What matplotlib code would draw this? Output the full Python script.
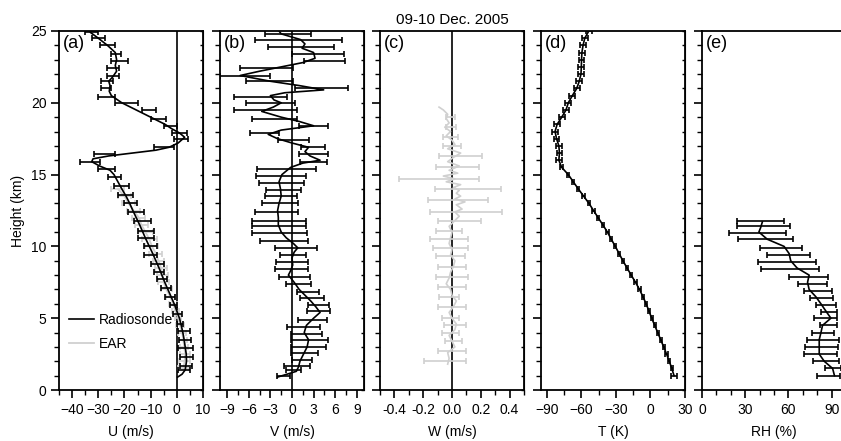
import matplotlib
matplotlib.use("Agg")
import matplotlib.pyplot as plt
from matplotlib.ticker import MultipleLocator

plt.rcParams['font.family'] = ['Liberation Sans', 'DejaVu Sans']
plt.rcParams['font.size'] = 10

# (a) zonal wind, radiosonde line
u_h = [0.9, 1.1, 1.4, 2.0, 2.5, 3.0, 3.5, 4.0, 4.5, 5.0, 5.5, 6.0, 6.5, 7.0, 7.5, 8.0,
       8.5, 9.0, 9.5, 10.0, 10.5, 11.0, 11.5, 12.0, 12.5, 13.0, 13.5, 14.0, 14.5, 15.0,
       15.3, 15.6, 15.9, 16.1, 16.3, 16.5, 16.7, 16.9, 17.2, 17.6, 17.9, 18.2, 18.5,
       19.0, 19.5, 20.0, 20.5, 20.8, 21.2, 21.5, 21.8, 22.2, 22.6, 23.0, 23.5, 24.0,
       24.5, 24.9]
u_val = [0.3, 2.0, 3.2, 3.7, 3.6, 3.2, 2.8, 2.3, 1.7, 1.0, 0.0, -1.0, -2.2, -3.4, -4.6,
         -5.7, -6.8, -8.0, -9.2, -10.5, -11.8, -13.0, -14.2, -15.5, -16.8, -18.0, -19.4,
         -21.0, -22.5, -24.0, -25.5, -29.5, -32.5, -32.0, -26.0, -17.0, -8.0, -3.0, 0.5,
         3.0, 1.0, -2.0, -4.5, -10.0, -15.5, -21.0, -25.0, -25.8, -25.5, -26.0, -24.5,
         -23.0, -23.5, -23.0, -23.5, -26.5, -30.0, -33.0]
# radiosonde error bars (height, centre, half width)
u_err_h = [1.4, 1.7, 2.3, 2.9, 3.5, 4.1, 4.6, 5.3, 5.9, 6.5, 7.1, 7.7, 8.2, 8.8, 9.4,
           10.0, 10.6, 11.1, 11.8, 12.4, 13.0, 13.6, 14.2, 14.8, 15.4, 15.9, 16.4, 16.9,
           17.5, 17.9, 18.4, 18.9, 19.5, 20.0, 20.4, 21.0, 21.5, 21.9, 22.4, 22.9, 23.4,
           24.0, 24.5, 24.9]
u_err_c = [2.8, 3.5, 3.8, 3.3, 3.1, 2.8, 1.2, 0.2, -1.2, -2.5, -4.3, -5.6, -6.9, -7.5,
           -10.0, -10.0, -11.9, -11.9, -13.1, -15.6, -17.8, -19.7, -21.2, -23.8, -26.9,
           -33.1, -27.8, -5.0, 1.6, 0.9, -2.5, -6.9, -10.6, -19.4, -26.9, -26.9, -26.6,
           -24.4, -24.4, -21.9, -23.4, -26.6, -30.0, -32.5]
u_err_w = [2.2, 2.2, 2.5, 2.8, 2.2, 2.2, 1.3, 1.6, 1.3, 1.9, 1.9, 1.9, 1.9, 2.5, 2.5,
           2.5, 3.1, 3.1, 3.1, 3.1, 2.5, 2.8, 2.8, 2.5, 3.1, 3.8, 4.0, 3.8, 2.8, 2.8,
           2.5, 2.8, 2.8, 4.4, 3.1, 1.9, 2.2, 2.2, 2.2, 3.4, 1.9, 2.8, 2.5, 2.5]
# EAR zonal wind
ear_h = [1.5, 2.0, 2.5, 3.0, 3.5, 4.0, 4.5, 5.0, 5.5, 6.0, 6.5, 7.0, 7.5, 8.0, 8.5,
         9.0, 9.5, 10.0, 10.5, 11.0, 11.5, 12.0, 12.5, 13.0, 13.5, 14.0]
ear_u = [2.5, 3.0, 3.2, 2.8, 2.5, 2.0, 1.2, 0.5, -0.5, -1.5, -2.5, -4.0, -5.0, -5.5,
         -6.0, -7.0, -8.0, -9.5, -10.5, -12.0, -13.5, -14.5, -16.5, -18.5, -20.0, -22.5]
ear_w = [2.0, 2.0, 1.8, 1.5, 1.5, 1.5, 1.5, 1.2, 1.5, 1.5, 1.8, 2.0, 2.0, 2.0, 2.2,
         2.2, 2.5, 2.5, 2.8, 2.8, 2.5, 2.5, 2.5, 2.5, 2.5, 2.5]

# (b) meridional wind
v_h = [0.9, 1.1, 1.3, 1.6, 2.0, 2.5, 3.0, 3.5, 4.0, 4.5, 5.0, 5.4, 5.8, 6.2, 6.6, 7.0,
       7.5, 8.0, 8.3, 8.7, 9.2, 9.6, 9.9, 10.2, 10.6, 11.0, 11.5, 12.0, 12.5, 13.0, 13.5,
       14.0, 14.5, 15.0, 15.5, 15.8, 16.0, 16.3, 16.6, 16.9, 17.2, 17.5, 17.8, 18.1,
       18.4, 18.7, 19.0, 19.4, 19.7, 20.0, 20.2, 20.5, 20.7, 20.9, 21.2, 21.5, 21.9,
       22.2, 22.5, 22.8, 23.1, 23.5, 23.8, 24.1, 24.4, 24.8, 25.0]
v_val = [-2.0, -0.7, 0.6, 0.9, 1.1, 1.6, 2.1, 2.3, 1.7, 2.0, 3.0, 3.9, 3.3, 2.6, 1.8,
         1.0, 0.3, -0.5, -0.2, 0.1, 0.0, 0.3, 0.8, 0.2, -0.8, -1.5, -1.9, -1.9, -2.0,
         -1.8, -1.5, -1.6, -1.8, -1.4, -0.2, 1.5, 3.9, 2.5, 1.8, 2.3, 0.0, -2.0, -3.3,
         -1.5, 3.0, 1.0, -1.5, -4.2, -2.6, -1.5, -2.5, -3.0, -1.0, 4.4, 1.0, -3.0, -7.2,
         -4.5, -1.5, 1.5, 3.2, 3.0, 1.4, 1.8, 1.2, -1.5, -1.8]
v_err_h = [1.0, 1.4, 1.7, 2.1, 2.6, 3.0, 3.5, 3.9, 4.4, 4.9, 5.5, 5.9, 6.4, 6.8, 7.4,
           7.9, 8.4, 8.9, 9.4, 9.9, 10.4, 10.9, 11.4, 11.8, 12.4, 13.0, 13.5, 13.9, 14.4,
           14.9, 15.4, 15.9, 16.4, 16.9, 17.4, 17.9, 18.4, 18.9, 19.5, 20.0, 20.4, 21.0,
           21.5, 21.9, 22.4, 22.9, 23.4, 23.9, 24.4, 24.8]
v_err_c = [-1.2, 0.2, 0.7, 1.4, 1.7, 2.3, 2.4, 2.0, 1.6, 2.9, 3.7, 3.7, 2.8, 2.2, 0.9,
           0.35, -0.1, 0.0, 0.2, 0.6, -1.1, -1.7, -1.8, -1.8, -2.1, -1.6, -1.5, -1.2,
           -1.5, -1.5, -0.8, 3.0, 3.0, 2.9, 0.2, -3.8, 3.0, -2.4, -3.7, -3.0, -4.4, 4.1,
           -3.1, -6.5, -3.5, 4.5, 3.6, 1.2, 0.9, -0.6]
v_err_w = [0.9, 1.0, 1.8, 1.4, 1.9, 2.4, 2.6, 2.2, 2.3, 2.0, 1.6, 1.5, 1.7, 1.5, 1.8,
           2.2, 2.3, 2.2, 1.8, 2.9, 3.3, 3.8, 3.8, 3.8, 3.0, 2.5, 2.2, 2.4, 3.1, 3.5,
           4.1, 1.9, 2.0, 1.7, 2.1, 2.0, 2.0, 3.1, 4.4, 3.4, 3.7, 3.7, 3.3, 3.5, 3.7,
           2.8, 3.6, 4.6, 6.0, 3.2]

# (c) vertical wind (EAR)
w_h = [1.8, 2.2, 2.6, 3.0, 3.4, 3.8, 4.2, 4.6, 5.0, 5.4, 5.8, 6.2, 6.6, 7.0, 7.4, 7.8,
       8.2, 8.6, 9.0, 9.4, 9.8, 10.2, 10.6, 11.0, 11.4, 11.8, 12.1, 12.4, 12.6, 12.9,
       13.1, 13.3, 13.5, 13.7, 13.9, 14.1, 14.3, 14.5, 14.7, 14.9, 15.1, 15.3, 15.6,
       15.9, 16.2, 16.5, 16.8, 17.1, 17.4, 17.7, 18.0, 18.3, 18.6, 18.9, 19.2, 19.5, 19.7]
w_val = [-0.03, -0.02, -0.03, 0.02, 0.00, -0.02, 0.02, 0.03, 0.00, -0.02, 0.01, 0.03,
         0.00, -0.01, -0.04, -0.02, -0.01, 0.01, 0.02, -0.01, 0.00, -0.02, -0.01, 0.00,
         -0.02, 0.02, 0.05, 0.02, 0.07, 0.03, 0.09, 0.02, 0.06, 0.03, 0.05, 0.01, 0.06,
         -0.04, 0.02, -0.06, 0.04, -0.02, 0.05, -0.03, 0.01, 0.06, -0.03, 0.02, 0.00,
         -0.04, -0.01, -0.05, -0.02, -0.04, -0.03, -0.06, -0.09]
w_err_h = [2.0, 2.7, 3.4, 4.0, 4.5, 5.0, 5.8, 6.5, 7.2, 7.9, 8.6, 9.3, 9.9, 10.5, 11.1,
           11.8, 12.4, 13.2, 14.0, 14.7, 15.5, 16.3, 17.0, 17.6, 18.3, 19.0]
w_err_c = [-0.05, 0.0, 0.01, -0.01, 0.02, -0.01, 0.0, -0.02, 0.0, 0.0, 0.0, -0.01,
           -0.01, -0.02, -0.02, 0.05, 0.10, 0.04, 0.11, -0.09, 0.04, 0.06, 0.0, -0.01,
           -0.005, -0.01]
w_err_w = [0.145, 0.096, 0.06, 0.057, 0.076, 0.06, 0.1, 0.07, 0.1, 0.11, 0.1, 0.1,
           0.12, 0.13, 0.09, 0.15, 0.25, 0.21, 0.23, 0.28, 0.15, 0.15, 0.065, 0.05,
           0.035, 0.03]

# (d) temperature
t_h = [1.0, 1.5, 2.0, 2.5, 3.0, 3.5, 4.0, 4.5, 5.0, 5.5, 6.0, 6.5, 7.0, 7.5, 8.0, 8.5,
       9.0, 9.5, 10.0, 10.5, 11.0, 11.5, 12.0, 12.5, 13.0, 13.5, 14.0, 14.5, 15.0, 15.5,
       16.0, 16.5, 17.0, 17.5, 18.0, 18.5, 19.0, 19.5, 20.0, 20.5, 21.0, 21.5, 22.0,
       22.5, 23.0, 23.5, 24.0, 24.5, 25.0]
t_val = [20.5, 18.5, 16.4, 14.0, 11.5, 8.9, 6.3, 3.7, 1.1, -1.3, -3.7, -6.5, -9.5,
         -13.0, -16.7, -20.3, -23.9, -27.2, -30.5, -34.0, -37.4, -41.3, -45.4, -49.4,
         -53.4, -58.0, -62.6, -67.0, -71.3, -77.0, -79.5, -79.0, -79.5, -81.5, -82.8,
         -81.0, -77.0, -73.3, -71.3, -67.8, -64.0, -61.8, -60.3, -60.0, -59.8, -59.5,
         -58.5, -57.0, -53.5]
t_err = [2.9, 1.0, 1.0, 1.0, 1.0, 1.0, 1.0, 1.0, 1.0, 1.0, 1.0, 1.0, 1.0, 1.0, 1.0,
         1.0, 1.0, 1.0, 1.0, 1.0, 1.0, 1.0, 1.0, 1.0, 1.0, 1.0, 1.0, 1.0, 1.0, 1.5,
         2.5, 2.5, 2.5, 2.5, 2.5, 2.5, 2.5, 2.5, 2.5, 2.5, 2.5, 2.5, 2.5, 2.5, 2.5,
         2.5, 2.5, 2.5, 2.5]

# (e) relative humidity
rh_h = [1.0, 1.5, 2.0, 2.5, 3.0, 3.5, 4.0, 4.5, 5.0, 5.5, 6.0, 6.5, 7.0, 7.5, 8.0, 8.5,
        9.0, 9.5, 10.0, 10.5, 11.0, 11.3, 11.7]
rh_val = [92.0, 90.7, 84.9, 81.4, 81.4, 81.4, 82.6, 83.7, 89.5, 86.0, 82.6, 79.0, 74.4,
          73.3, 74.4, 66.0, 61.6, 60.5, 57.0, 45.3, 39.5, 40.7, 41.9]
rh_err_h = [1.0, 1.5, 2.0, 2.5, 3.0, 3.5, 4.0, 4.5, 5.0, 5.4, 5.9, 6.4, 6.9, 7.4, 7.9,
            8.4, 8.9, 9.4, 9.9, 10.5, 10.9, 11.4, 11.8]
rh_err_c = [88, 91, 86, 82, 83, 84, 84, 88, 86, 88, 86, 83, 80.5, 77, 74, 61, 59, 60,
            55, 44, 38.5, 42.5, 40.5]
rh_err_w = [8, 5.5, 9, 11.5, 11.5, 11, 7.5, 6, 8, 5.5, 7, 8, 10, 10, 13.5, 20, 20, 15,
            14.5, 19, 19.5, 18.5, 16.5]

W, H = 841, 441
fig = plt.figure(figsize=(W / 100, H / 100), dpi=100)

lefts = [59, 220, 380, 541, 702]
bottom, width, height = 51, 144, 359
axes = [fig.add_axes([l / W, bottom / H, width / W, height / H]) for l in lefts]

err_kw = dict(fmt='none', capsize=2.5, elinewidth=1.2, capthick=1.2)
grey = '#d0d0d0'

ax = axes[0]
ax.errorbar(ear_u, ear_h, xerr=ear_w, ecolor=grey, **err_kw)
ax.plot(ear_u, ear_h, color=grey, lw=1.3, label='EAR')
ax.errorbar(u_err_c, u_err_h, xerr=u_err_w, ecolor='black', **err_kw)
ax.plot(u_val, u_h, color='black', lw=1.2, label='Radiosonde')
ax.set_xlim(-45, 10)
ax.xaxis.set_major_locator(MultipleLocator(10))
ax.xaxis.set_minor_locator(MultipleLocator(5))
ax.set_xlabel('U (m/s)')
ax.set_ylabel('Height (km)')
handles, labels = ax.get_legend_handles_labels()
ax.legend(handles[::-1], labels[::-1], loc='lower left', bbox_to_anchor=(-0.02, 0.075),
          frameon=False, handlelength=1.8, fontsize=10, handletextpad=0.4,
          labelspacing=0.7)

ax = axes[1]
ax.errorbar(v_err_c, v_err_h, xerr=v_err_w, ecolor='black', **err_kw)
ax.plot(v_val, v_h, color='black', lw=1.2)
ax.set_xlim(-10, 10)
ax.xaxis.set_major_locator(MultipleLocator(3))
ax.xaxis.set_minor_locator(MultipleLocator(1.5))
ax.set_xlabel('V (m/s)')

ax = axes[2]
ax.errorbar(w_err_c, w_err_h, xerr=w_err_w, ecolor=grey, **err_kw)
ax.plot(w_val, w_h, color=grey, lw=1.2)
ax.set_xlim(-0.5, 0.5)
ax.set_xticks([-0.4, -0.2, 0.0, 0.2, 0.4])
ax.set_xticklabels(['-0.4', '-0.2', '0.0', '0.2', '0.4'])
ax.xaxis.set_minor_locator(MultipleLocator(0.1))
ax.set_xlabel('W (m/s)')
ax.set_title('09-10 Dec. 2005', fontsize=11, pad=5)

ax = axes[3]
ax.errorbar(t_val, t_h, xerr=t_err, ecolor='black', **err_kw)
ax.plot(t_val, t_h, color='black', lw=1.2)
ax.set_xlim(-95, 30)
ax.xaxis.set_major_locator(MultipleLocator(30))
ax.xaxis.set_minor_locator(MultipleLocator(15))
ax.set_xlabel('T (K)')

ax = axes[4]
ax.errorbar(rh_err_c, rh_err_h, xerr=rh_err_w, ecolor='black', **err_kw)
ax.plot(rh_val, rh_h, color='black', lw=1.2)
ax.set_xlim(0, 100)
ax.xaxis.set_major_locator(MultipleLocator(30))
ax.xaxis.set_minor_locator(MultipleLocator(10))
ax.set_xlabel('RH (%)')

for i, ax in enumerate(axes):
    if i < 3:
        ax.axvline(0, color='black', lw=1.2, zorder=1)
    ax.set_ylim(0, 25)
    ax.yaxis.set_major_locator(MultipleLocator(5))
    ax.yaxis.set_minor_locator(MultipleLocator(1))
    ax.tick_params(which='major', direction='out', length=6, width=1.2, labelsize=10,
                   pad=3)
    ax.tick_params(which='minor', direction='out', length=3.5, width=1.0)
    if i > 0:
        ax.tick_params(axis='y', labelleft=False)
    for s in ax.spines.values():
        s.set_linewidth(1.3)
    ax.xaxis.labelpad = 6
    ax.text(0.03, 0.99, '(' + 'abcde'[i] + ')', transform=ax.transAxes,
            ha='left', va='top', fontsize=13)
    sec = ax.secondary_yaxis('right')
    sec.yaxis.set_major_locator(MultipleLocator(5))
    sec.yaxis.set_minor_locator(MultipleLocator(1))
    sec.tick_params(which='both', direction='in', labelright=False, length=2.5, width=1.0)

fig.savefig('out.png', dpi=100)
